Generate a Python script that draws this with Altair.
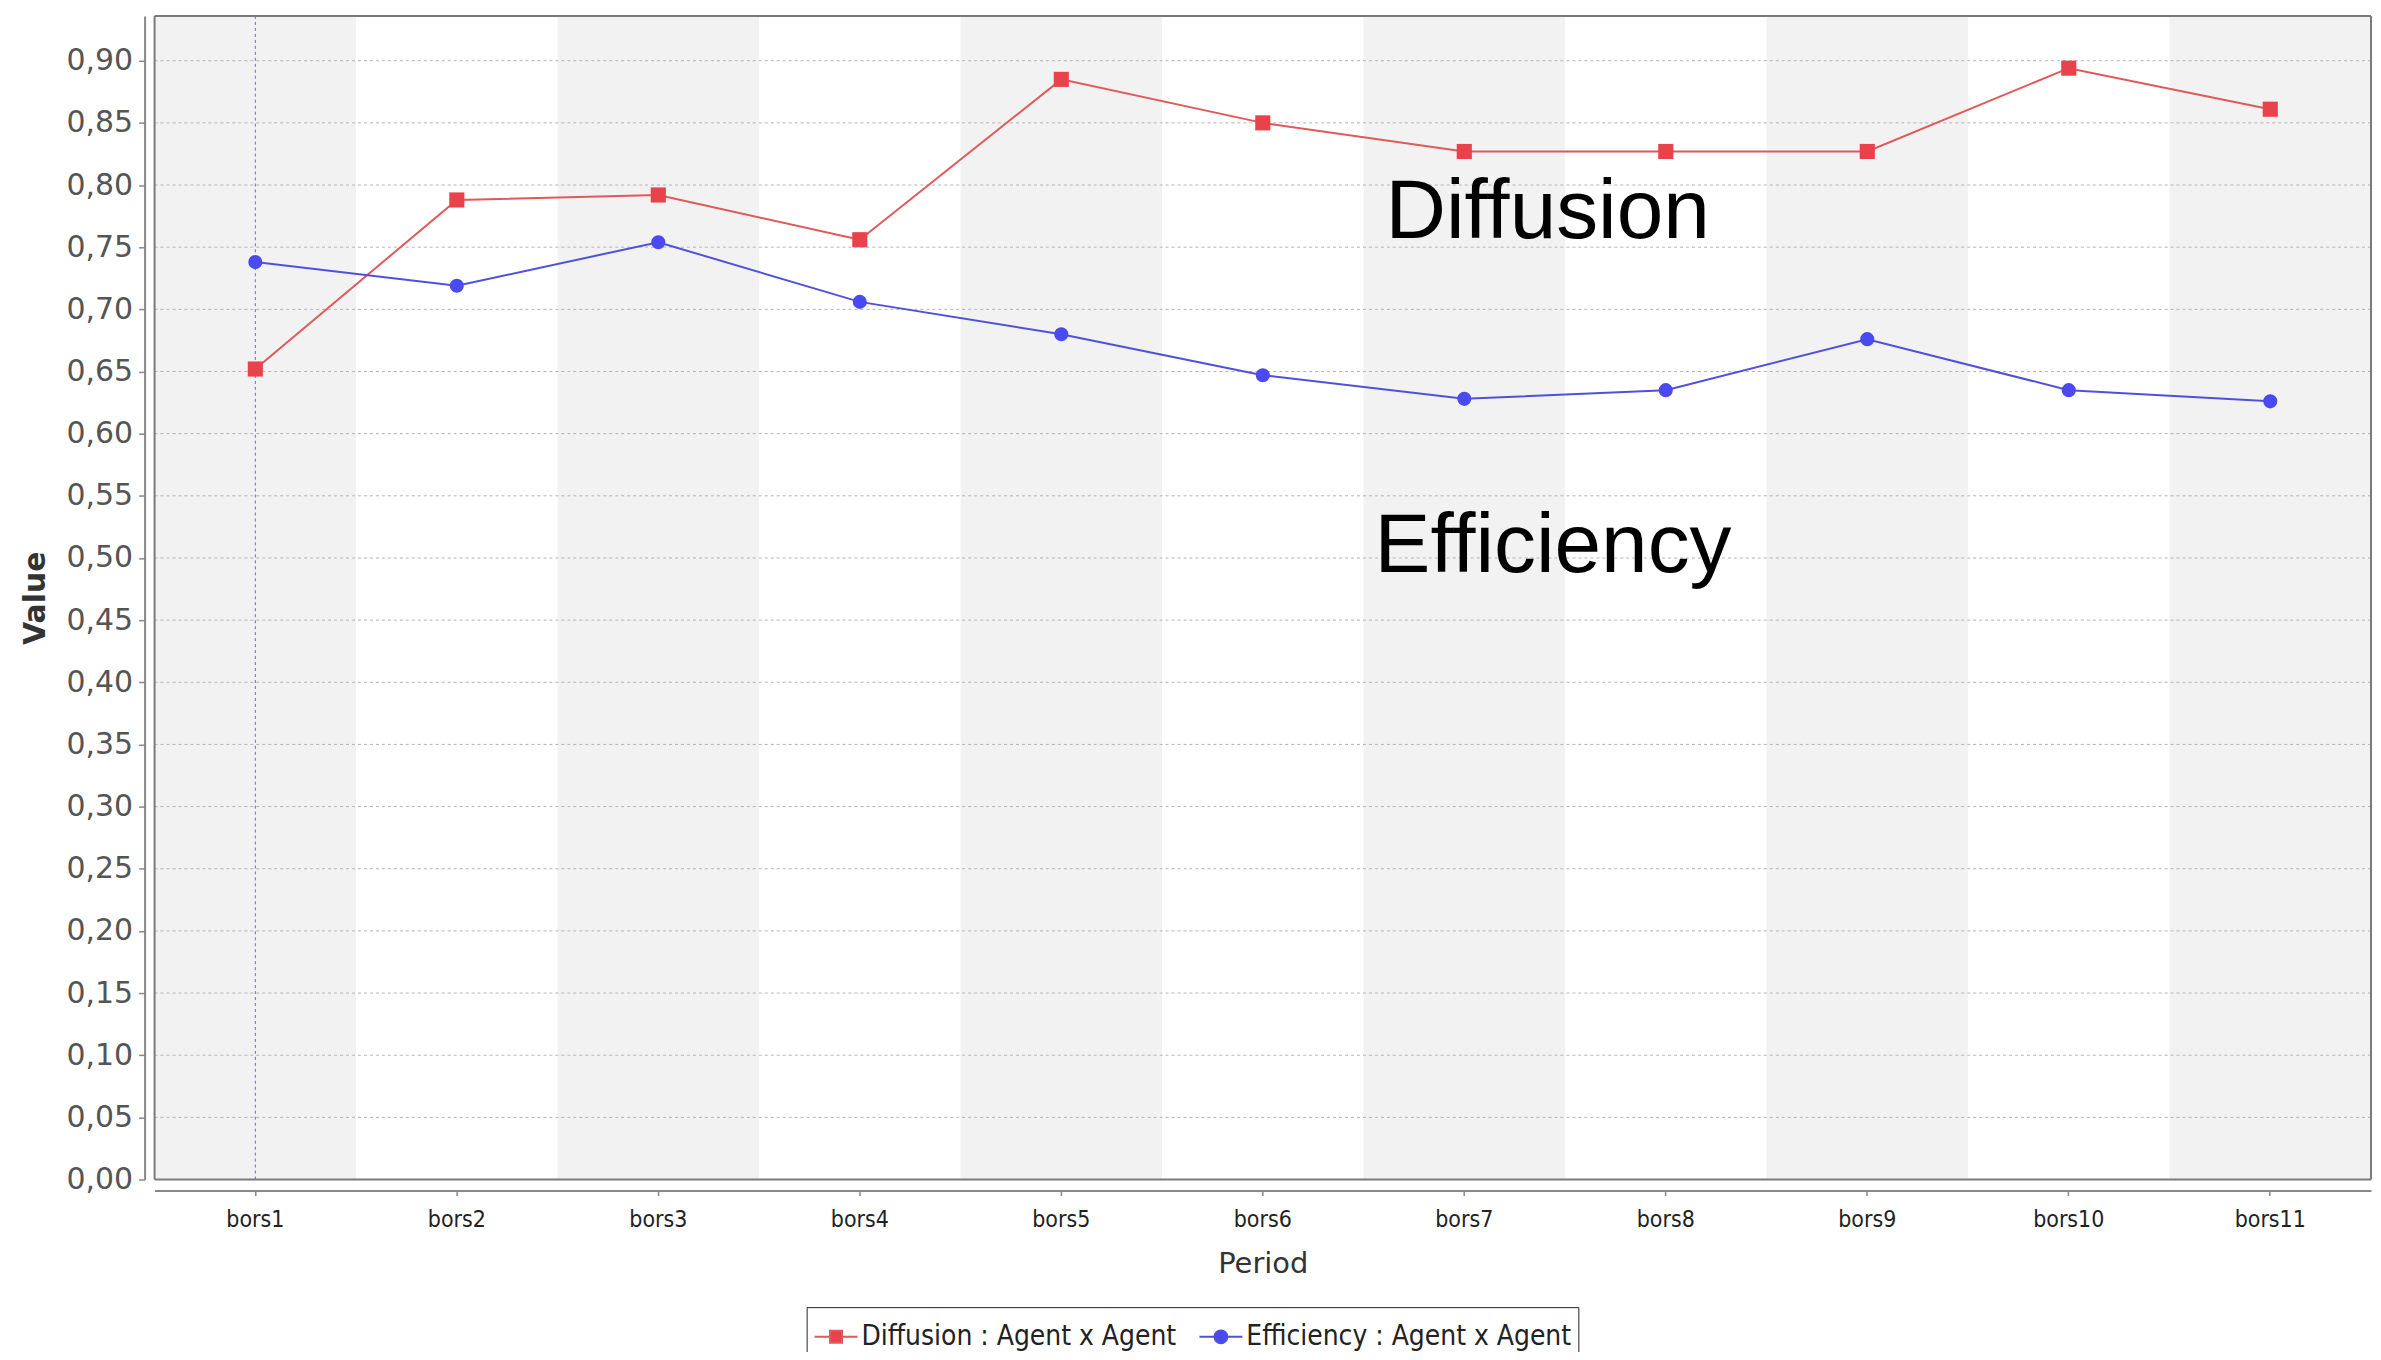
import altair as alt
import pandas as pd

# ---------------- data ----------------
periods = ["bors1", "bors2", "bors3", "bors4", "bors5", "bors6",
           "bors7", "bors8", "bors9", "bors10", "bors11"]
diffusion = [0.652, 0.788, 0.792, 0.756, 0.885, 0.850, 0.827, 0.827, 0.827, 0.894, 0.861]
efficiency = [0.738, 0.719, 0.754, 0.706, 0.680, 0.647, 0.628, 0.635, 0.676, 0.635, 0.626]
series_names = ["Diffusion : Agent x Agent", "Efficiency : Agent x Agent"]
y_ticks = [0.00, 0.05, 0.10, 0.15, 0.20, 0.25, 0.30, 0.35, 0.40, 0.45,
           0.50, 0.55, 0.60, 0.65, 0.70, 0.75, 0.80, 0.85, 0.90]
y_max = 0.936
shaded_periods = ["bors1", "bors3", "bors5", "bors7", "bors9", "bors11"]
crosshair_period = ["bors1"]
annotation_text = ["Diffusion", "Efficiency"]
annotation_period = ["bors7", "bors7"]
annotation_value = [0.757, 0.4885]

# ---------------- styles ----------------
RED_PT, RED_LN = "#e8434a", "#e0585a"
BLUE_PT, BLUE_LN = "#4a4af0", "#5050dc"
AXIS_GREY = "#888888"
FRAME_GREY = "#7a7a7a"
TICK_FONT = "DejaVu Sans Condensed, DejaVu Sans"

W, H = 2223, 1167

long = pd.DataFrame(
    [{"period": p, "series": series_names[0], "value": v} for p, v in zip(periods, diffusion)]
    + [{"period": p, "series": series_names[1], "value": v} for p, v in zip(periods, efficiency)]
)
bands_df = pd.DataFrame({"period": shaded_periods})
grid_df = pd.DataFrame({"value": y_ticks[1:]})
cross_df = pd.DataFrame({"period": crosshair_period})
ann_df = pd.DataFrame({"label": annotation_text, "period": annotation_period, "value": annotation_value})

x_scale = alt.Scale(type="band", domain=periods, paddingInner=0, paddingOuter=0)
y_scale = alt.Scale(domain=[0, y_max], nice=False, zero=True)

x_axis = alt.Axis(
    title="Period", orient="bottom", offset=11, labelAngle=0,
    labelFont=TICK_FONT, labelFontSize=23, labelColor="#222222", labelPadding=13,
    tickSize=5, tickColor=AXIS_GREY, tickWidth=1.5,
    domainColor=AXIS_GREY, domainWidth=2,
    titleFont="DejaVu Sans", titleFontSize=29, titleFontWeight="normal",
    titleColor="#333333", titlePadding=18, grid=False,
)
y_axis = alt.Axis(
    title="Value", orient="left", offset=10, values=y_ticks,
    labelExpr="replace(format(datum.value, '.2f'), '.', ',')",
    labelFont="DejaVu Sans", labelFontSize=30, labelColor="#555555", labelPadding=6,
    tickSize=6, tickColor=AXIS_GREY, tickWidth=1.5,
    domainColor=AXIS_GREY, domainWidth=2,
    titleFont="DejaVu Sans", titleFontSize=30, titleFontWeight="bold",
    titleColor="#333333", titlePadding=16, grid=False,
)

def XF(field="period:N", **kw):
    return alt.X(field, scale=x_scale, axis=x_axis, sort=periods, **kw)

X = XF()
Y = alt.Y("value:Q", scale=y_scale, axis=y_axis)

bands = alt.Chart(bands_df).mark_rect(color="#f2f2f2").encode(
    x=X, y=alt.datum(0.0), y2=alt.datum(y_max),
)

grid = alt.Chart(grid_df).mark_rule(color="#b4b4b4", strokeWidth=1, strokeDash=[3, 3]).encode(y=Y)

cross = alt.Chart(cross_df).mark_rule(color="#6464e6", strokeWidth=1, strokeDash=[3, 3]).encode(x=X)

# plot frame drawn on top of the background bands
frame_h = alt.Chart(pd.DataFrame({"value": [0.0, y_max]})).mark_rule(
    color=FRAME_GREY, strokeWidth=2).encode(y=Y)
frame_l = alt.Chart(pd.DataFrame({"value": [0.0]})).mark_rule(
    color=FRAME_GREY, strokeWidth=2).encode(
    x=alt.X(datum=periods[0], bandPosition=0, scale=x_scale, axis=x_axis, type="nominal"))
frame_r = alt.Chart(pd.DataFrame({"value": [0.0]})).mark_rule(
    color=FRAME_GREY, strokeWidth=2).encode(
    x=alt.X(datum=periods[-1], bandPosition=1, scale=x_scale, axis=x_axis, type="nominal"))

def series_layers(name, line_col, pt_col, shape, size):
    base = alt.Chart(long).transform_filter(alt.datum.series == name)
    ln = base.transform_calculate(
        period_idx=f"indexof({periods!r}, datum.period)"
    ).mark_line(color=line_col, strokeWidth=2).encode(x=X, y=Y, order="period_idx:Q")
    pt = base.mark_point(shape=shape, filled=True, size=size, color=pt_col, opacity=1).encode(x=X, y=Y)
    return ln, pt

d_line, d_pts = series_layers(series_names[0], RED_LN, RED_PT, "square", 230)
e_line, e_pts = series_layers(series_names[1], BLUE_LN, BLUE_PT, "circle", 200)

def ann_layer(label, dx):
    return alt.Chart(ann_df).transform_filter(alt.datum.label == label).mark_text(
        font="Liberation Sans, Arial", fontSize=84, color="black", align="left",
        baseline="alphabetic", dx=dx,
    ).encode(x=X, y=Y, text="label:N")

ann_d = ann_layer(annotation_text[0], -79)
ann_e = ann_layer(annotation_text[1], -90)

SQ = "M-1,0H-0.28M0.28,0H1M-0.28,-0.28H0.28V0.28H-0.28Z"
CI = "M-1,0H-0.3M0.3,0H1M0.3,0A0.3,0.3,0,1,1,-0.3,0A0.3,0.3,0,1,1,0.3,0Z"

leg = alt.Legend(
    title=None, orient="none", legendX=654, legendY=1295, direction="horizontal",
    labelFont=TICK_FONT, labelFontSize=28, labelColor="#222222", labelLimit=0,
    labelOffset=3, symbolSize=1849, symbolStrokeWidth=2,
    strokeColor="#222222", fillColor="white", padding=7, columnPadding=19,
)
legend_layer = alt.Chart(long).transform_filter("false").mark_point(
    filled=True, opacity=1, strokeWidth=2).encode(
    x=X, y=Y,
    fill=alt.Fill("series:N", scale=alt.Scale(domain=series_names, range=[RED_PT, BLUE_PT]), legend=leg),
    stroke=alt.Stroke("series:N", scale=alt.Scale(domain=series_names, range=[RED_LN, BLUE_LN]), legend=leg),
    shape=alt.Shape("series:N", scale=alt.Scale(domain=series_names, range=[SQ, CI]), legend=leg),
)

chart = alt.layer(
    bands, grid, cross, frame_h, frame_l, frame_r,
    d_line, e_line, d_pts, e_pts, ann_d, ann_e, legend_layer
).properties(
    width=W, height=H,
    padding={"left": 147, "top": 6, "right": 2, "bottom": 171},
    autosize=alt.AutoSizeParams(type="none"),
    background="white",
).configure_view(stroke=None)

chart.save("out.html", embed_options={"renderer": "svg", "actions": False})
